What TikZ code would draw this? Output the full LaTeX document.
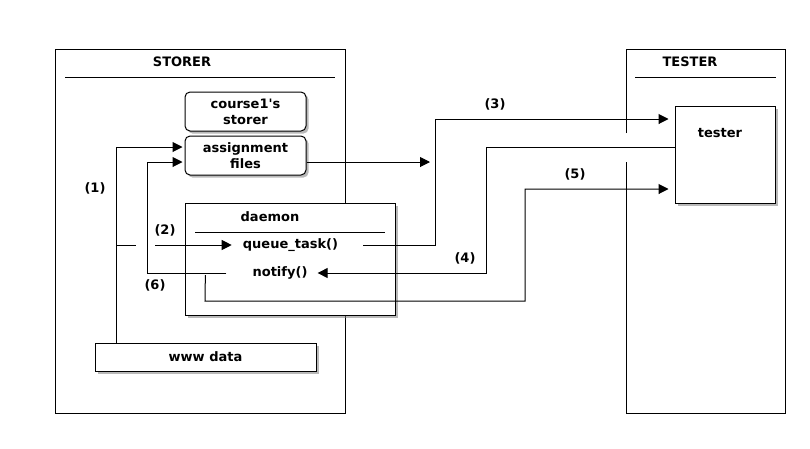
\documentclass[tikz,border=0pt]{standalone}
\usepackage{fontspec}
\setmainfont{DejaVu Sans}
\usetikzlibrary{arrows.meta,shadows,calc}
\begin{document}
\begin{tikzpicture}[x=1pt,y=-1pt,
  every node/.style={font=\fontsize{13}{16}\selectfont\bfseries},
  frame/.style={draw, line width=1pt},
  box/.style={draw, fill=white, line width=1pt, inner sep=0pt,
    drop shadow={shadow xshift=2.5pt, shadow yshift=-2.5pt, fill=black!50, opacity=0.55}},
  rbox/.style={box, rounded corners=5pt, align=center},
  conn/.style={line width=1pt},
  arr/.style={conn, -{Triangle[length=10pt,width=10pt]}},
  lbl/.style={inner sep=0pt}
]
\path[use as bounding box] (0,0) rectangle (810,448);

% STORER frame
\node[frame, minimum width=290pt, minimum height=364pt] (storer) at (200,231) {};
\node[lbl] (storerT) at (182,62) {STORER};
\draw[conn] (65,77) -- (335,77);

% TESTER frame (with gap on its left edge)
\draw[conn] (626,133) -- (626,49) -- (785,49) -- (785,413) -- (626,413) -- (626,162);
\node[lbl] (testerF) at (690,62) {TESTER};
\draw[conn] (635,77) -- (776,77);

% boxes
\node[rbox, minimum width=121pt, minimum height=39pt] (course) at (245.5,111.5) {course1\textquotesingle s\\storer};
\node[rbox, minimum width=121pt, minimum height=39pt] (files) at (245.5,155.5) {assignment\\files};
\node[box, minimum width=210pt, minimum height=112pt] (daemon) at (290,259) {};
\node[lbl] (daemonT) at (270,217) {daemon};
\draw[conn] (195,232) -- (385,232);
\node[lbl] (queue) at (290.5,245) {queue\_task()};
\node[lbl] (notify) at (280,273) {notify()};
\node[box, minimum width=100pt, minimum height=97pt] (tester) at (725,154.5) {};
\node[lbl] (testerT) at (720,133) {tester};
\node[box, minimum width=221pt, minimum height=28pt] (www) at (205.5,357) {www data};

% coordinates
\coordinate (x1) at (116,0);
\coordinate (x6) at (147,0);
\coordinate (s2) at (155,245);
\coordinate (p3) at (435,119);
\coordinate (p4) at (486,147);
\coordinate (p5a) at (205,301);
\coordinate (p5b) at (525,189);
\coordinate (fend) at (430,162);

% (1)
\draw[arr] (www.north -| x1) |- ($(files.west)+(-2,-8.5)$);
\draw[conn] (x1 |- queue) -- ++(20,0);
% (2)
\draw[arr] (s2) -- ($(queue.west)+(-11,0)$);
% (6)
\draw[arr] ($(notify.west)+(-26,0)$) -| ($(files.west -| x6)+(0,6.5)$) -- ($(files.west)+(-2,6.5)$);
% files -> out
\draw[arr] ($(files.east)+(0,6.5)$) -- (fend);
% (3)
\draw[arr] ($(queue.east)+(25,0)$) -| (p3) -- ($(tester.west |- p3)+(-6,0)$);
% (4)
\draw[arr] (tester.west |- p4) -- (p4) |- ($(notify.east)+(10,0)$);
% (5)
\draw[arr] ($(notify.west)+(-47,2)$) -- (p5a) -| (p5b) -- ($(tester.west |- p5b)+(-6,0)$);

% labels
\node[lbl] (l1) at (95,188) {(1)};
\node[lbl] (l2) at (165,230) {(2)};
\node[lbl] (l6) at (155,285) {(6)};
\node[lbl] (l3) at (495,104) {(3)};
\node[lbl] (l4) at (465,258) {(4)};
\node[lbl] (l5) at (575,174) {(5)};
\end{tikzpicture}
\end{document}
